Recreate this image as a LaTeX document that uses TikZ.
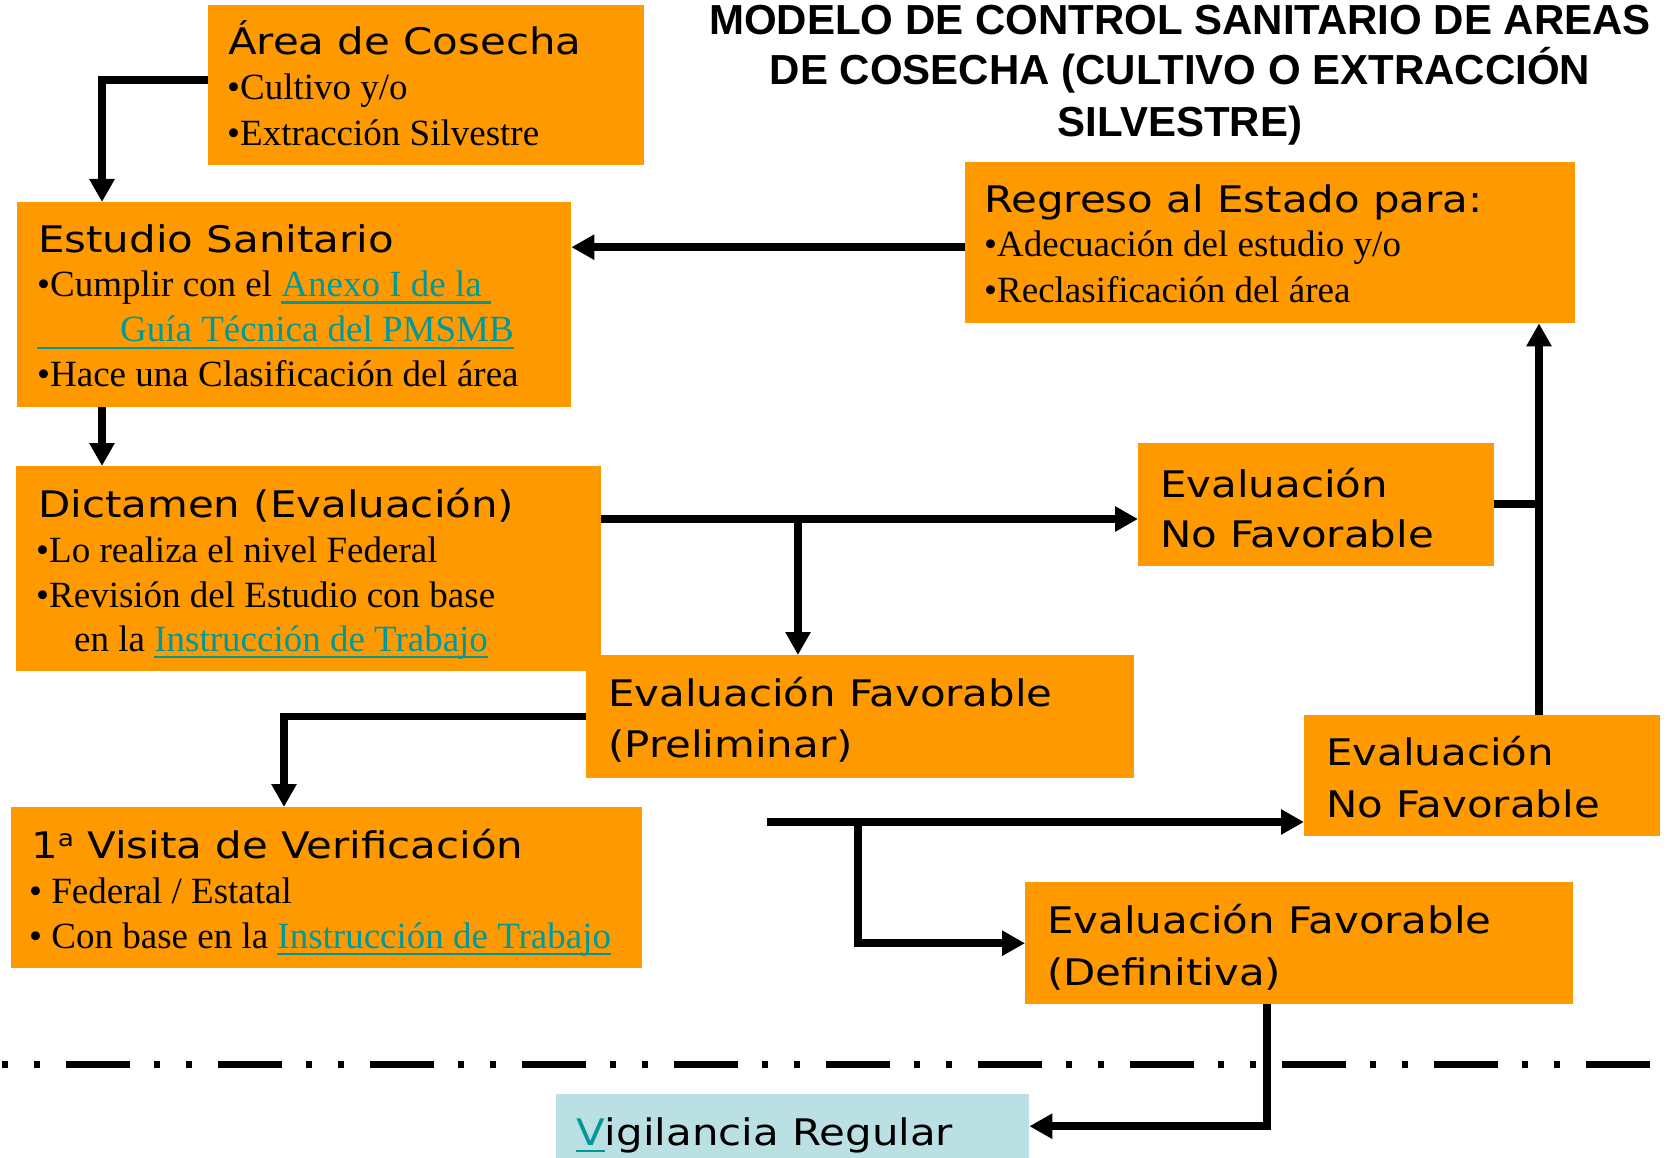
\documentclass[tikz,border=0pt]{standalone}
\usepackage{fontspec}
\setmainfont{Liberation Serif}
\newfontfamily\headf{DejaVu Sans}[FakeStretch=1.145]
\newfontfamily\titlef{Liberation Sans}
\usetikzlibrary{arrows.meta}
\definecolor{orng}{RGB}{255,153,0}
\definecolor{linkc}{RGB}{0,153,153}
\definecolor{vigc}{RGB}{187,224,227}
\newsavebox\lkbox
\newcommand\lnk[1]{\sbox\lkbox{\color{linkc}#1}\rlap{\color{linkc}\rule[-7pt]{\wd\lkbox}{2.5pt}}\usebox\lkbox}
\begin{document}
\begin{tikzpicture}[x=1pt,y=-1pt,
 obox/.style={fill=orng, draw=none, inner sep=0pt, anchor=north west},
 vbox/.style={fill=vigc, draw=none, inner sep=0pt, anchor=north west},
 head/.style={anchor=base west, inner sep=0pt, font=\headf\fontsize{36.6}{40}\selectfont},
 body/.style={anchor=base west, inner sep=0pt, font=\fontsize{37}{40}\selectfont},
 ttl/.style={anchor=base, inner sep=0pt, font=\titlef\bfseries\fontsize{42}{48}\selectfont},
 ln/.style={line width=7.5pt},
 arr/.style={line width=7.5pt, -{Triangle[length=23pt,width=24pt]}}]
\useasboundingbox (0,0) rectangle (1674,1158);
\fill[white] (0,0) rectangle (1674,1158);

% boxes
\node[obox, minimum width=436pt, minimum height=160pt] (area) at (208,5) {};
\node[obox, minimum width=554pt, minimum height=205pt] (estudio) at (17,202) {};
\node[obox, minimum width=585pt, minimum height=205pt] (dictamen) at (16,466) {};
\node[obox, minimum width=548pt, minimum height=123pt] (prelim) at (586,655) {};
\node[obox, minimum width=631pt, minimum height=161pt] (visita) at (11,807) {};
\node[obox, minimum width=610pt, minimum height=161pt] (regreso) at (965,162) {};
\node[obox, minimum width=356pt, minimum height=123pt] (nf1) at (1138,443) {};
\node[obox, minimum width=356pt, minimum height=121pt] (nf2) at (1304,715) {};
\node[obox, minimum width=548pt, minimum height=122pt] (definitiva) at (1025,882) {};
\node[vbox, minimum width=473pt, minimum height=64pt] (vigilancia) at (556,1094) {};

% title
\node[ttl] (t1) at (1180,35) {MODELO DE CONTROL SANITARIO DE AREAS};
\node[ttl] (t2) at (1180,85) {DE COSECHA (CULTIVO O EXTRACCIÓN};
\node[ttl] (t3) at (1180,137) {SILVESTRE)};

% texts
\node[head] (aT1) at (228,55) {Área de Cosecha};
\node[body] (aT2) at (227,100) {•Cultivo y/o};
\node[body] (aT3) at (227,146) {•Extracción Silvestre};

\node[head] (eT1) at (38,253) {Estudio Sanitario};
\node[body] (eT2) at (37,297) {•Cumplir con el \lnk{Anexo I de la\ }};
\node[body] (eT3) at (37,342) {\lnk{\hspace*{83pt}Guía Técnica del PMSMB}};
\node[body] (eT4) at (37,387) {•Hace una Clasificación del área};

\node[head] (dT1) at (38,517) {Dictamen (Evaluación)};
\node[body] (dT2) at (36,562) {•Lo realiza el nivel Federal};
\node[body] (dT3) at (36,607) {•Revisión del Estudio con base};
\node[body] (dT4) at (74,651) {en la \lnk{Instrucción de Trabajo}};

\node[head] (pT1) at (608,706) {Evaluación Favorable};
\node[head] (pT2) at (608,757) {(Preliminar)};

\node[head] (vT1) at (31,858) {1\raisebox{12pt}{\fontsize{23}{23}\selectfont a} Visita de Verificación};
\node[body] (vT2) at (29,903) {• Federal / Estatal};
\node[body] (vT3) at (29,948) {• Con base en la \lnk{Instrucción de Trabajo}};

\node[head] (rT1) at (984,213) {Regreso al Estado para:};
\node[body] (rT2) at (984,257) {•Adecuación del estudio y/o};
\node[body] (rT3) at (984,303) {•Reclasificación del área};

\node[head] (n1T1) at (1160,497) {Evaluación};
\node[head] (n1T2) at (1160,547) {No Favorable};
\node[head] (n2T1) at (1326,765) {Evaluación};
\node[head] (n2T2) at (1326,817) {No Favorable};

\node[head] (fT1) at (1047,933) {Evaluación Favorable};
\node[head] (fT2) at (1047,985) {(Definitiva)};

\node[head] (gT1) at (576,1145) {\lnk{V}igilancia Regular};

% connectors
\coordinate (a1) at ([yshift=5pt]area.west);
\coordinate (r1) at ([yshift=-4.5pt]regreso.west);
\coordinate (j1) at (798,519);
\coordinate (j2) at (1539,504);
\coordinate (s2) at (767,822);
\coordinate (j3) at (858,822);
\coordinate (dl1) at (0,1064);
\coordinate (dl2) at (1650,1064);

\draw[arr] (a1) -| ([xshift=85pt]estudio.north west);
\draw[arr] ([xshift=85pt]estudio.south west) -- ([xshift=86pt]dictamen.north west);
\draw[arr] (r1) -- (r1 -| estudio.east);
\draw[arr] (dictamen.east |- j1) -- (j1 -| nf1.west);
\draw[arr] (j1) -- (j1 |- prelim.north);
\draw[arr] (prelim.west) -| ([xshift=273pt]visita.north west);
\draw[ln] (nf1.east |- j2) -- (j2);
\draw[arr] (j2 |- nf2.north) -- (j2 |- regreso.south);
\draw[arr] (s2) -- (s2 -| nf2.west);
\draw[arr] (j3) |- (definitiva.west);
\draw[arr] ([xshift=242pt]definitiva.south west) |- (vigilancia.east);

% separator
\draw[line width=7pt, dash pattern=on 64pt off 24pt on 6pt off 26pt on 6pt off 26pt, dash phase=86pt] (dl1) -- (dl2);
\end{tikzpicture}
\end{document}
